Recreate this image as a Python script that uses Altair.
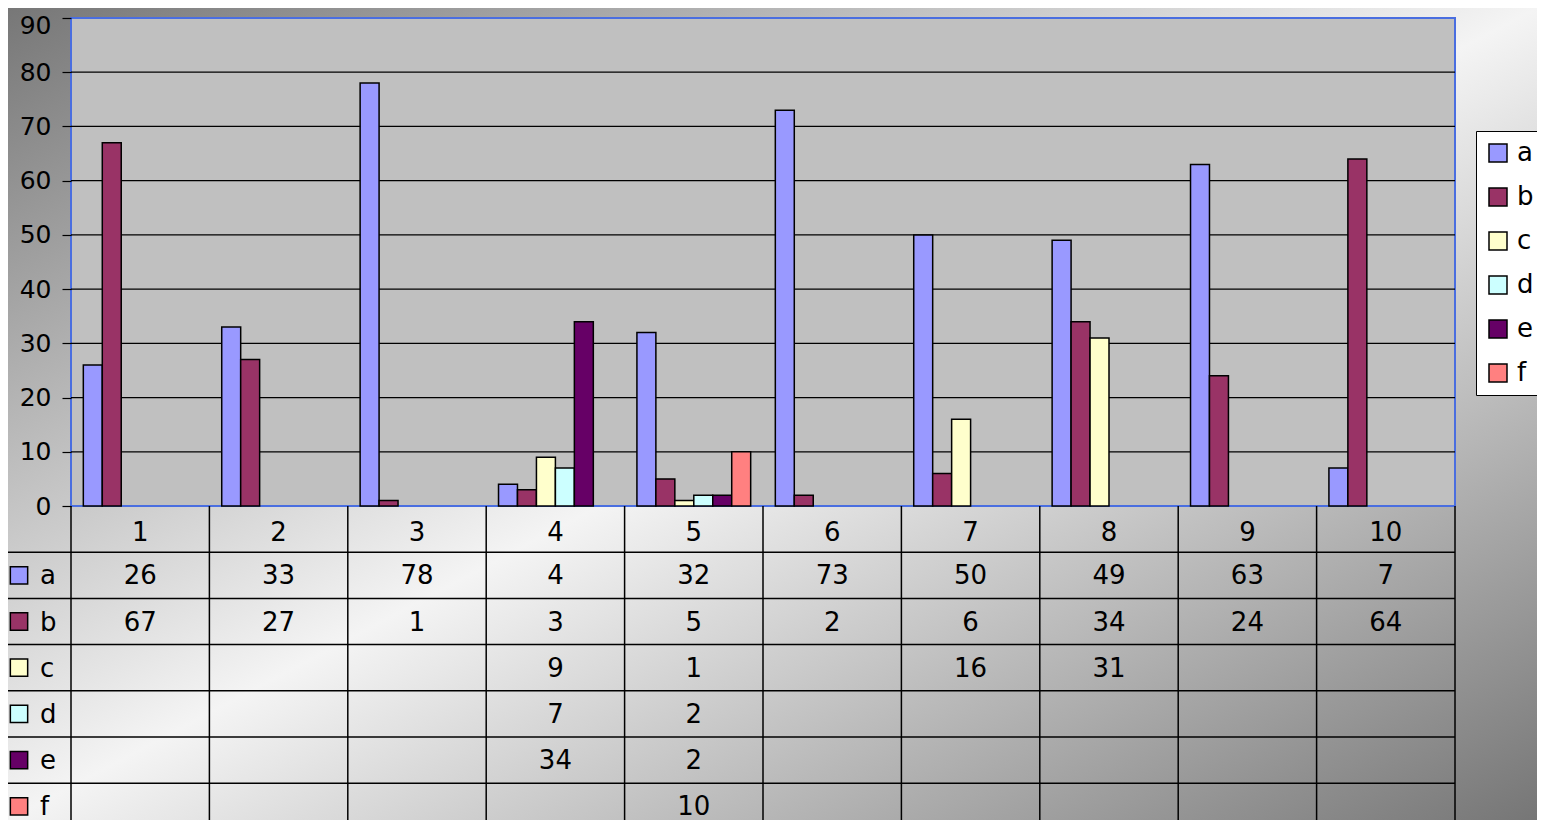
import altair as alt
import pandas as pd

categories = ["1", "2", "3", "4", "5", "6", "7", "8", "9", "10"]
series = ["a", "b", "c", "d", "e", "f"]
colors = ["#9999ff", "#993366", "#ffffcc", "#ccffff", "#660066", "#ff8080"]
a_vals = [26, 33, 78, 4, 32, 73, 50, 49, 63, 7]
b_vals = [67, 27, 1, 3, 5, 2, 6, 34, 24, 64]
c_vals = [None, None, None, 9, 1, None, 16, 31, None, None]
d_vals = [None, None, None, 7, 2, None, None, None, None, None]
e_vals = [None, None, None, 34, 2, None, None, None, None, None]
f_vals = [None, None, None, None, 10, None, None, None, None, None]
y_ticks = [0, 10, 20, 30, 40, 50, 60, 70, 80, 90]
grid_vals = [10, 20, 30, 40, 50, 60, 70, 80]

FONT = "DejaVu Sans"
W, H = 1384, 802
BAR_H = 488
PAD_L, PAD_T, PAD_R = 63, 10, 82
ROW_H = 46.2
Y_MAX = 90
Y_MIN = -Y_MAX * (H - BAR_H) / BAR_H
T_MIN = -0.5 - BAR_H / ROW_H
T_MAX = -0.5 + (H - BAR_H) / ROW_H

records = []
for i, (s, vals) in enumerate(zip(series, [a_vals, b_vals, c_vals, d_vals, e_vals, f_vals])):
    for c, v in zip(categories, vals):
        if v is not None:
            records.append({"cat": c, "series": s, "value": v, "row": i + 1})
df = pd.DataFrame(records)
hdr = pd.DataFrame({"cat": categories, "row": [0] * len(categories)})
rows = pd.DataFrame({"series": series, "row": list(range(1, len(series) + 1))})
grid_df = pd.DataFrame({"g": grid_vals})
edges = pd.DataFrame({"edge": [0.5, 1.5, 2.5, 3.5, 4.5, 5.5]})
one = pd.DataFrame({"k": [0]})

ybar = alt.Scale(domain=[Y_MIN, Y_MAX], nice=False, zero=False)
ytab = alt.Scale(domain=[T_MIN, T_MAX], nice=False, zero=False, reverse=True)
xscale = alt.Scale(domain=categories, paddingInner=0, paddingOuter=0)
cscale = alt.Scale(domain=series, range=colors)

y_axis = alt.Axis(
    values=y_ticks, grid=False, domain=False, tickColor="black", tickSize=9, tickWidth=1.2,
    labelFontSize=25, labelFont=FONT, labelColor="black", labelPadding=11, title=None,
    zindex=2, orient="left", labelFlush=True, labelFlushOffset=5)

gradient = alt.LinearGradient(
    gradient="linear", x1=0, y1=0, x2=1, y2=1,
    stops=[alt.GradientStop(color="#777777", offset=0),
           alt.GradientStop(color="#f4f4f4", offset=0.5),
           alt.GradientStop(color="#767676", offset=1)])

bg = alt.Chart(one).mark_rect(fill=gradient).encode(
    x=alt.value(-PAD_L), x2=alt.value(W + PAD_R), y=alt.value(-PAD_T), y2=alt.value(H))

plot_rect = alt.Chart(one).mark_rect(fill="#c0c0c0", stroke="#4a6ee0", strokeWidth=2).encode(
    x=alt.value(0), x2=alt.value(W),
    y=alt.YDatum(Y_MAX, type="quantitative", scale=ybar, axis=y_axis),
    y2=alt.Y2Datum(0))

grid = alt.Chart(grid_df).mark_rule(color="black", strokeWidth=1.2).encode(
    y=alt.Y("g:Q", scale=ybar, axis=y_axis))

bars = alt.Chart(df).mark_bar(stroke="black", strokeWidth=1.5).encode(
    x=alt.X("cat:N", sort=categories, scale=xscale, axis=None),
    xOffset=alt.XOffset("series:N", sort=series, scale=alt.Scale(paddingOuter=0.65, paddingInner=0)),
    y=alt.Y("value:Q", scale=ybar, axis=y_axis),
    color=alt.Color("series:N", scale=cscale, legend=alt.Legend(
        orient="none", legendX=1405, legendY=113, title=None, fillColor="white",
        strokeColor="black", padding=9, symbolType="square", symbolSize=324,
        symbolStrokeColor="black", symbolStrokeWidth=1.5, labelFontSize=26,
        labelFont=FONT, labelColor="black", rowPadding=18, labelOffset=6, zindex=2)))

top = alt.layer(bg, plot_rect, grid, bars)

hlines = alt.Chart(edges).mark_rule(color="black", strokeWidth=1.5).encode(
    y=alt.Y("edge:Q", scale=ytab, axis=None), x=alt.value(-67), x2=alt.value(W))

vlines = alt.Chart(hdr).mark_rule(color="black", strokeWidth=1.5).encode(
    x=alt.X("cat:N", sort=categories, scale=xscale, axis=None, bandPosition=0),
    y=alt.YDatum(-0.5, type="quantitative", scale=ytab, axis=None), y2=alt.Y2Datum(T_MAX))

vline_end = alt.Chart(hdr.tail(1)).mark_rule(color="black", strokeWidth=1.5).encode(
    x=alt.X("cat:N", sort=categories, scale=xscale, axis=None, bandPosition=1),
    y=alt.YDatum(-0.5, type="quantitative", scale=ytab, axis=None), y2=alt.Y2Datum(T_MAX))

vline_left = alt.Chart(one).mark_rule(color="black", strokeWidth=1.5).encode(
    x=alt.value(-67),
    y=alt.YDatum(0.5, type="quantitative", scale=ytab, axis=None), y2=alt.Y2Datum(T_MAX))

hdr_text = alt.Chart(hdr).mark_text(fontSize=26, font=FONT, color="black", baseline="middle", dy=4).encode(
    x=alt.X("cat:N", sort=categories, scale=xscale, axis=None),
    y=alt.Y("row:Q", scale=ytab, axis=None), text="cat:N")

val_text = alt.Chart(df).mark_text(fontSize=26, font=FONT, color="black", baseline="middle", dy=1).encode(
    x=alt.X("cat:N", sort=categories, scale=xscale, axis=None),
    y=alt.Y("row:Q", scale=ytab, axis=None), text="value:Q")

row_text = alt.Chart(rows).mark_text(fontSize=26, font=FONT, color="black", baseline="middle", align="left", dy=1).encode(
    x=alt.value(-31), y=alt.Y("row:Q", scale=ytab, axis=None), text="series:N")

swatch = alt.Chart(rows).mark_point(shape="square", filled=True, size=300, stroke="black",
                                    strokeWidth=1.5, opacity=1).encode(
    x=alt.value(-52), y=alt.Y("row:Q", scale=ytab, axis=None),
    color=alt.Color("series:N", scale=cscale, legend=None))

table = alt.layer(hlines, vlines, vline_end, vline_left, hdr_text, val_text, row_text, swatch)

chart = alt.layer(top, table).resolve_scale(y="independent").properties(
    width=W, height=H,
    padding={"left": PAD_L, "top": PAD_T, "right": PAD_R, "bottom": 0},
    autosize=alt.AutoSizeParams(type="none"),
).configure_view(strokeWidth=0).configure(font=FONT, background="#c8c8c8")

chart.save("out.html", embed_options={"renderer": "svg", "actions": False})
